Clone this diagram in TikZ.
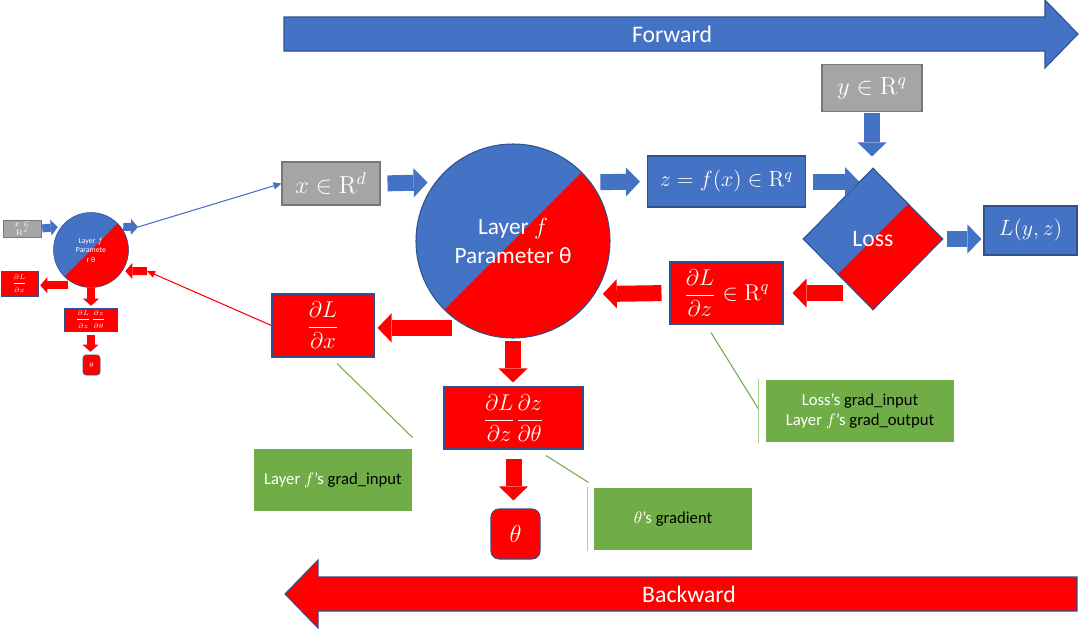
\documentclass[tikz,border=0pt]{standalone}
\usepackage{fix-cm}
\usepackage[no-math]{fontspec}
\setmainfont{Carlito}
\usetikzlibrary{shapes.geometric,arrows.meta}

\definecolor{boxblue}{HTML}{4472C4}
\definecolor{lineblue}{HTML}{2F528F}
\definecolor{boxred}{HTML}{FF0000}
\definecolor{boxgray}{HTML}{A5A5A5}
\definecolor{linegray}{HTML}{787878}
\definecolor{boxgreen}{HTML}{70AD47}
\definecolor{accentgreen}{HTML}{A9D18E}

\newlength\pxu
\setlength\pxu{0.02cm}
\newcommand\fsz[2]{\fontsize{#1}{#2}\selectfont}

\tikzset{
  wh/.style 2 args = {minimum width=#1*\pxu, minimum height=#2*\pxu},
  box/.style      = {shape=rectangle, inner sep=0pt, align=center,
                     text=white, line width=0.6pt},
  graybox/.style  = {box, draw=linegray, fill=boxgray},
  bluebox/.style  = {box, draw=lineblue, fill=boxblue},
  redbox/.style   = {box, draw=lineblue, fill=boxred},
  note/.style     = {box, fill=boxgreen, font=\fsz{9.5}{11.5}},
  halfred/.style  = {path picture={
      \fill[boxred] ([shift={(110,-110)}]path picture bounding box.center)
        -- ++(110,110) -- ++(-220,220) -- ++(-110,-110) -- cycle;}},
  layer/.style    = {shape=circle, draw=lineblue, fill=boxblue, halfred,
                     inner sep=0pt, align=center, text=white, line width=0.6pt},
  loss/.style     = {shape=diamond, aspect=1, draw=lineblue, fill=boxblue, halfred,
                     inner sep=0pt, text=white, line width=0.6pt},
  fwdarrow/.style = {draw=boxblue, line width=16*\pxu,
                     -{Triangle[length=0.28cm, width=0.58cm, line width=0pt]}},
  bwdarrow/.style = {fwdarrow, draw=boxred},
  fwdsmall/.style = {draw=boxblue, line width=8*\pxu,
                     -{Triangle[length=0.14cm, width=0.32cm, line width=0pt]}},
  bwdsmall/.style = {fwdsmall, draw=boxred},
  link/.style     = {line width=0.6pt, -{Triangle[length=0.16cm, width=0.14cm]}},
  callout/.style  = {draw=boxgreen, line width=0.6pt},
  accent/.style   = {draw=accentgreen, line width=0.6pt}
}

\begin{document}
\begin{tikzpicture}[x=0.02cm, y=-0.02cm]
  \useasboundingbox (0,0) rectangle (1082,629);

  % direction bands
  \filldraw[fill=boxblue, draw=lineblue, line width=0.6pt]
    (284,17) -- (1045,17) -- (1045,0) -- (1078,34) -- (1045,68) -- (1045,51) -- (284,51) -- cycle;
  \node[font=\fsz{13.5}{15}, text=white] (fwdtext) at (672,34) {Forward};
  \filldraw[fill=boxred, draw=lineblue, line width=0.6pt]
    (1077,577) -- (318,577) -- (318,560) -- (285,594) -- (318,628) -- (318,611) -- (1077,611) -- cycle;
  \node[font=\fsz{13.5}{15}, text=white] (bwdtext) at (689,594) {Backward};

  % main layer
  \node[graybox, wh={98}{43}, font=\fsz{14}{16}] (xbox) at (331,183.5) {$x\in\mathrm{R}^d$};
  \node[layer, minimum size=194*\pxu, font=\fsz{13.3}{16}] (layer) at (513,241)
    {Layer $f$\\Parameter θ};
  \node[bluebox, wh={158}{51}, font=\fsz{12.5}{15}] (zbox) at (726.5,181.5) {$z=f(x)\in\mathrm{R}^q$};
  \node[graybox, wh={100}{47}, font=\fsz{14}{16}] (ybox) at (872,88) {$y\in\mathrm{R}^q$};
  \node[loss, wh={140}{142}, font=\fsz{13.5}{15}] (loss) at (873,239) {Loss};
  \node[bluebox, wh={93}{49}, font=\fsz{12.5}{15}] (Lbox) at (1030.5,230.5) {$L(y,z)$};
  \node[redbox, wh={113}{62}, font=\fsz{13}{15}] (dLdz) at (726.5,293)
    {$\displaystyle\frac{\partial L}{\partial z}\in\mathrm{R}^q$};
  \node[redbox, wh={102}{63}, font=\fsz{13}{15}] (dLdx) at (323,325.5)
    {$\displaystyle\frac{\partial L}{\partial x}$};
  \node[redbox, wh={139}{62}, font=\fsz{13}{15}] (prod) at (513.5,418)
    {$\displaystyle\frac{\partial L}{\partial z}\frac{\partial z}{\partial\theta}$};
  \node[redbox, wh={49}{50}, rounded corners=8*\pxu, font=\fsz{14}{16}] (theta) at (515.5,534) {$\theta$};

  % notes
  \node[note, wh={158}{62}] (gx) at (333,480) {Layer $f$’s {\color{black}grad\_input}};
  \node[note, wh={158}{62}] (gtheta) at (673,519) {$\theta$’s {\color{black}gradient}};
  \node[note, wh={188}{62}] (gz) at (860,411)
    {Loss’s {\color{black}grad\_input}\\Layer $f$’s {\color{black}grad\_output}};

  % previous layer, small
  \node[graybox, wh={38}{17}, line width=0.3pt, font=\fsz{4.3}{5}] (sx) at (22,228.5) {$x\in$\\$\mathrm{R}^d$};
  \node[layer, minimum size=75*\pxu, line width=0.3pt, font=\fsz{4.4}{5.4}] (slayer) at (91,250)
    {Layer $f$\\Paramete\\r θ};
  \node[redbox, wh={37}{25}, line width=0.3pt, font=\fsz{3.8}{4}] (sdx) at (19.5,283.5)
    {$\displaystyle\frac{\partial L}{\partial x}$};
  \node[redbox, wh={53}{23}, line width=0.3pt, font=\fsz{3.8}{4}] (sprod) at (90.5,319.5)
    {$\displaystyle\frac{\partial L}{\partial z}\frac{\partial z}{\partial\theta}$};
  \node[redbox, wh={17}{20}, line width=0.3pt, rounded corners=3*\pxu, font=\fsz{4}{4}] (stheta) at (91.5,365) {$\theta$};
  \coordinate (sout) at (138,227);
  \coordinate (sin) at (147,271);

  % forward pass
  \draw[fwdarrow, shorten <=7*\pxu, shorten >=7.5*\pxu] (xbox.east) -- (layer.143);
  \draw[fwdarrow, shorten <=9.5*\pxu, shorten >=7*\pxu] (layer.37) -- (zbox.west);
  \draw[fwdarrow, shorten <=7*\pxu, shorten >=14*\pxu] (zbox.east) -- (zbox.east -| loss.north);
  \draw[fwdarrow, shorten <=1*\pxu, shorten >=11*\pxu] (ybox.south) -- (ybox.south |- loss.north);
  \draw[fwdarrow, shorten <=3*\pxu, shorten >=2*\pxu] (loss.east) -- (loss.east -| Lbox.west);

  % backward pass
  \draw[bwdarrow, shorten <=30*\pxu, shorten >=9*\pxu] (dLdz.east -| loss.south) -- (dLdz.east);
  \draw[bwdarrow, shorten <=8*\pxu, shorten >=8*\pxu] (dLdz.west) -- (layer.327.6);
  \draw[bwdarrow, shorten <=17*\pxu, shorten >=3*\pxu] (layer.243.7) -- (layer.243.7 -| dLdx.east);
  \draw[bwdarrow, shorten <=2*\pxu, shorten >=4*\pxu] (layer.south) -- (layer.south |- prod.north);
  \draw[bwdarrow, shorten <=9*\pxu, shorten >=8*\pxu] (prod.south) -- (prod.south |- theta.north);

  % small layer arrows
  \draw[fwdsmall, shorten <=1*\pxu, shorten >=3.5*\pxu] (sx.east) -- (slayer.142);
  \draw[fwdsmall, shorten <=2.5*\pxu] (slayer.38) -- (sout);
  \draw[link, draw=boxblue] (sout) -- (xbox.west);
  \draw[link, draw=boxred] (dLdx.west) -- (sin);
  \draw[bwdsmall, shorten >=3*\pxu] (sin) -- (slayer.326);
  \draw[bwdsmall, shorten <=9.6*\pxu, shorten >=2*\pxu] (slayer.249) -- (slayer.249 -| sdx.east);
  \draw[bwdsmall, shorten <=0.5*\pxu, shorten >=2*\pxu] (slayer.south) -- (slayer.south |- sprod.north);
  \draw[bwdsmall, shorten <=4*\pxu, shorten >=3*\pxu] (sprod.south) -- (sprod.south |- stheta.north);

  % callout lines
  \draw[callout] ([shift={(14,6)}]dLdx.south) -- ([shift={(0,-11)}]gx.north east);
  \draw[callout] ([shift={(32.5,6)}]prod.south) -- ([shift={(-5,-5)}]gtheta.north west);
  \draw[callout] ([shift={(-15.5,8)}]dLdz.south) -- ([shift={(-7,-2)}]gz.west);
  \draw[accent] ([xshift=-6*\pxu]gtheta.north west) -- ([xshift=-6*\pxu]gtheta.south west);
  \draw[accent] ([xshift=-7*\pxu]gz.north west) -- ([xshift=-7*\pxu]gz.south west);
\end{tikzpicture}
\end{document}
